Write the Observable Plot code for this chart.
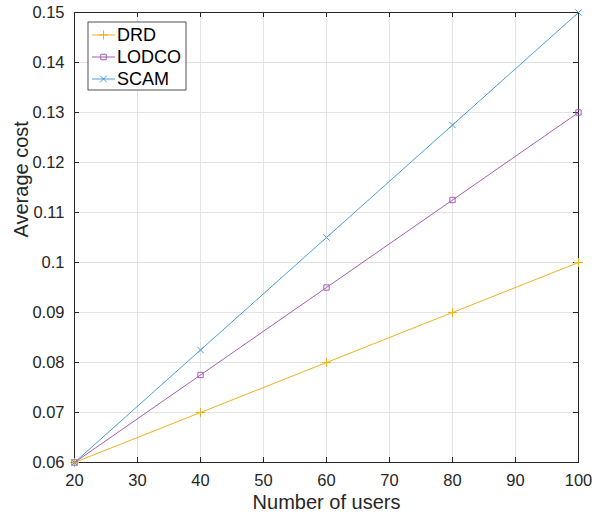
<!DOCTYPE html>
<html><head><meta charset="utf-8">
<script src="https://cdn.jsdelivr.net/npm/d3@7"></script>
<script src="https://cdn.jsdelivr.net/npm/@observablehq/plot@0.6"></script>
<style>body{margin:0;background:#fff;font-family:"Liberation Sans",Arial,sans-serif}</style>
</head><body><div id="chart"></div>
<script>
const users = [20, 40, 60, 80, 100];
const drd = [0.06, 0.07, 0.08, 0.09, 0.10];
const lodco = [0.06, 0.0775, 0.095, 0.1125, 0.13];
const scam = [0.06, 0.0825, 0.105, 0.1275, 0.15];
const seriesNames = ["DRD", "LODCO", "SCAM"];
const seriesColors = ["#EDB120", "#A45EB5", "#4A9FD8"];
const seriesSymbols = ["plus", "square", "times"];
const xTicks = [20, 30, 40, 50, 60, 70, 80, 90, 100];
const yTicks = [0.06, 0.07, 0.08, 0.09, 0.1, 0.11, 0.12, 0.13, 0.14, 0.15];

const values = [drd, lodco, scam];
const data = [];
seriesNames.forEach((s, i) => users.forEach((u, j) => data.push({series: s, x: u, y: values[i][j]})));

const marks = [
  Plot.gridX(xTicks, {stroke: "#e3e3e3", strokeOpacity: 1}),
  Plot.gridY(yTicks, {stroke: "#e3e3e3", strokeOpacity: 1}),
  Plot.ruleX(xTicks, {y1: 0.06, y2: 0.061, stroke: "#262626"}),
  Plot.ruleX(xTicks, {y1: 0.149, y2: 0.15, stroke: "#262626"}),
  Plot.ruleY(yTicks, {x1: 20, x2: 20.8, stroke: "#262626"}),
  Plot.ruleY(yTicks, {x1: 99.2, x2: 100, stroke: "#262626"}),
  Plot.frame({stroke: "#262626"}),
  Plot.axisX(xTicks, {tickSize: 0, tickPadding: 12, fontSize: 16.5, fill: "#262626", label: null}),
  Plot.axisY(yTicks, {tickSize: 0, tickPadding: 10, fontSize: 16.5, fill: "#262626", label: null,
    tickFormat: d => String(+d.toFixed(2))})
];
seriesNames.forEach((s, i) => {
  const d = data.filter(r => r.series === s);
  marks.push(Plot.line(d, {x: "x", y: "y", stroke: seriesColors[i], strokeWidth: 1}));
  marks.push(Plot.dot(d, {x: "x", y: "y", stroke: seriesColors[i], symbol: seriesSymbols[i], r: 3, strokeWidth: 1}));
});
// Axis labels
marks.push(Plot.text(["Number of users"], {frameAnchor: "bottom", lineAnchor: "middle", dy: 40, fontSize: 20, fill: "#262626"}));
marks.push(Plot.text(["Average cost"], {frameAnchor: "left", dx: -53, rotate: -90, fontSize: 20, fill: "#262626"}));

const plot = Plot.plot({
  width: 595, height: 515,
  marginLeft: 74, marginRight: 17, marginTop: 12, marginBottom: 53,
  style: {fontFamily: "'Liberation Sans', Arial, sans-serif", background: "#fff", overflow: "visible"},
  x: {domain: [20, 100]},
  y: {domain: [0.06, 0.15]},
  marks
});
document.getElementById("chart").appendChild(plot);

// Legend inside axes, positioned relative to scales
const sx = plot.scale("x"), sy = plot.scale("y");
const svg = d3.select(plot);
const lx = sx.apply(20) + 14, ly = sy.apply(0.15) + 10;
const g = svg.append("g").attr("transform", `translate(${lx},${ly})`);
g.append("rect").attr("width", 98).attr("height", 68).attr("fill", "#fff").attr("stroke", "#262626").attr("stroke-width", 0.8);
const shapes = {plus: d3.symbolPlus, square: d3.symbolSquare, times: d3.symbolTimes};
seriesNames.forEach((s, i) => {
  const yy = 13 + i * 22;
  g.append("line").attr("x1", 4).attr("x2", 27).attr("y1", yy).attr("y2", yy).attr("stroke", seriesColors[i]);
  g.append("path").attr("d", d3.symbol(shapes[seriesSymbols[i]], 30)()).attr("transform", `translate(15.5,${yy})`)
    .attr("fill", "none").attr("stroke", seriesColors[i]);
  g.append("text").attr("x", 29).attr("y", yy).attr("dy", "0.35em")
    .style("font-size", "18px").style("text-anchor", "start").attr("fill", "#000").text(s);
});
</script></body></html>
